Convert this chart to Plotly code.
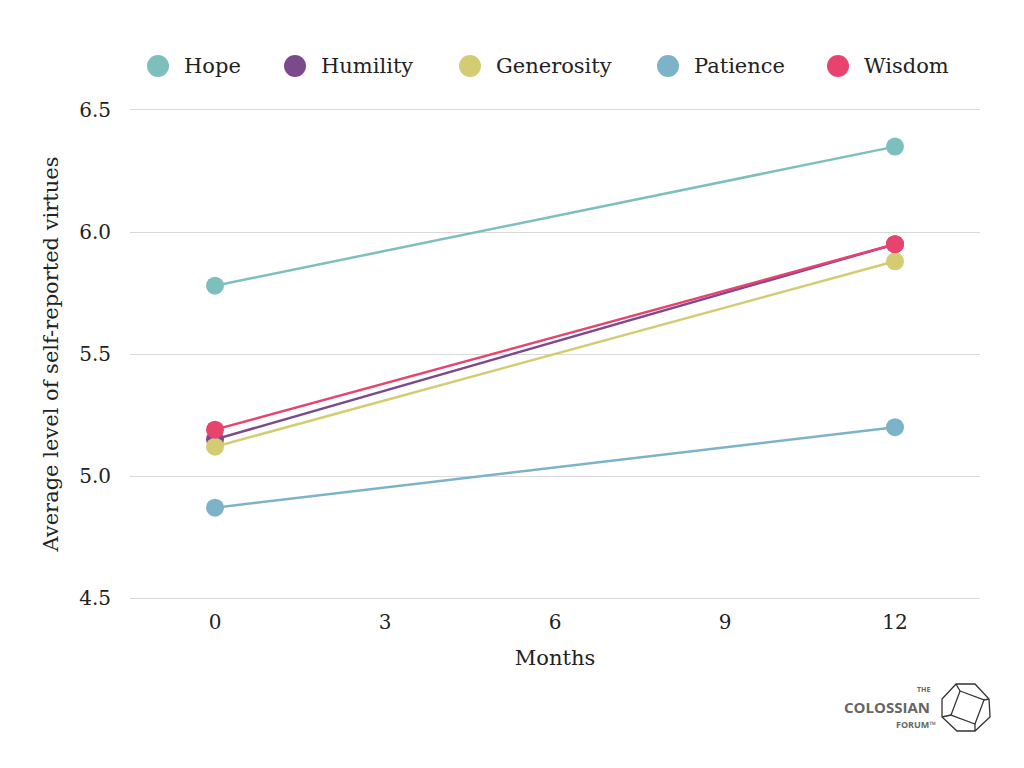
"""
Self-reported virtues, 0 vs 12 months
"""

import plotly.graph_objs as go

months = [0, 12]
virtues = ['Hope', 'Humility', 'Generosity', 'Patience', 'Wisdom']
hope = [5.78, 6.35]
humility = [5.15, 5.95]
generosity = [5.12, 5.88]
patience = [4.87, 5.20]
wisdom = [5.19, 5.95]
x_ticks = [0, 3, 6, 9, 12]
y_ticks = [4.5, 5.0, 5.5, 6.0, 6.5]

series = [hope, humility, generosity, patience, wisdom]
colors = ['#7dbfbd', '#7b4a8c', '#d4cc73', '#7db3c9', '#e8436f']

FONT = 'DejaVu Serif'

data = []
for name, vals, col in zip(virtues, series, colors):
    data.append(go.Scatter(
        x=months,
        y=vals,
        name=name,
        mode='lines+markers',
        line=dict(color=col, width=2.5),
        marker=dict(color=col, size=18),
        showlegend=False,
    ))

# plot area in page pixels: x 130..980, y 110..598
def px(x):
    return (x - 130) / 850.0

def py(y):
    return (598 - y) / 488.0

shapes = []
annotations = []

# legend drawn by hand so the circles can be big
legend_x = [158, 295, 470, 668, 838]
for name, col, lx in zip(virtues, colors, legend_x):
    shapes.append(dict(type='circle', xref='paper', yref='paper',
                       x0=px(lx - 11), x1=px(lx + 11), y0=py(77), y1=py(55),
                       fillcolor=col, line=dict(width=0)))
    annotations.append(dict(text=name, x=px(lx + 24), y=py(66), xref='paper', yref='paper',
                            xanchor='left', yanchor='middle', showarrow=False,
                            font=dict(family=FONT, size=21, color='#222222')))

# logo: dodecahedron outline
outer = [(956, 684), (975, 684), (989, 699), (990, 717),
         (975, 731), (957, 731), (942, 717), (942, 699)]
inner = [(960, 691), (984, 700), (975, 724), (951, 715)]
links = [((960, 691), (956, 684)), ((984, 700), (989, 699)),
         ((975, 724), (975, 731)), ((951, 715), (942, 717))]

def path(pts):
    return 'M ' + ' L '.join('%.4f,%.4f' % (px(a), py(b)) for a, b in pts) + ' Z'

shapes.append(dict(type='path', xref='paper', yref='paper', path=path(outer),
                   line=dict(color='#333333', width=1.3)))
shapes.append(dict(type='path', xref='paper', yref='paper', path=path(inner),
                   line=dict(color='#333333', width=1.3)))
for (a, b) in links:
    shapes.append(dict(type='line', xref='paper', yref='paper',
                       x0=px(a[0]), y0=py(a[1]), x1=px(b[0]), y1=py(b[1]),
                       line=dict(color='#333333', width=1.3)))

annotations += [
    dict(text='<b>THE</b>', x=px(932), y=py(690), xref='paper', yref='paper',
         xanchor='right', yanchor='middle', showarrow=False,
         font=dict(family='Open Sans', size=7, color='#666666')),
    dict(text='<b>COLOSSIAN</b>', x=px(932), y=py(707), xref='paper', yref='paper',
         xanchor='right', yanchor='middle', showarrow=False,
         font=dict(family='Open Sans', size=15, color='#666666')),
    dict(text='<b>FORUM</b>™', x=px(938), y=py(724), xref='paper', yref='paper',
         xanchor='right', yanchor='middle', showarrow=False,
         font=dict(family='Open Sans', size=9, color='#666666')),
]

# page body adds 8px, so margins are shifted to keep the plot at 130..980 / 110..598
layout = go.Layout(
    width=1024,
    height=768,
    margin=dict(l=122, r=52, t=102, b=178, autoexpand=False),
    paper_bgcolor='white',
    plot_bgcolor='white',
    font=dict(family=FONT, size=20, color='#222222'),
    showlegend=False,
    xaxis=dict(
        range=[-1.5, 13.5],
        tickvals=x_ticks,
        showgrid=False,
        zeroline=False,
        showline=True,
        mirror=True,
        linecolor='#d9d9d9',
        linewidth=1,
        ticks='',
        ticklabelstandoff=6,
        title=dict(text='Months', standoff=17, font=dict(size=21)),
        tickfont=dict(size=20),
    ),
    yaxis=dict(
        range=[4.5, 6.5],
        tickvals=y_ticks,
        tickformat='.1f',
        showgrid=True,
        gridcolor='#d9d9d9',
        gridwidth=1,
        zeroline=False,
        showline=False,
        ticks='',
        ticklabelstandoff=18,
        title=dict(text='Average level of self-reported virtues', standoff=14, font=dict(size=21)),
        tickfont=dict(size=20),
    ),
    shapes=shapes,
    annotations=annotations,
)

fig = go.Figure(data=data, layout=layout)
fig.write_html('out.html')
